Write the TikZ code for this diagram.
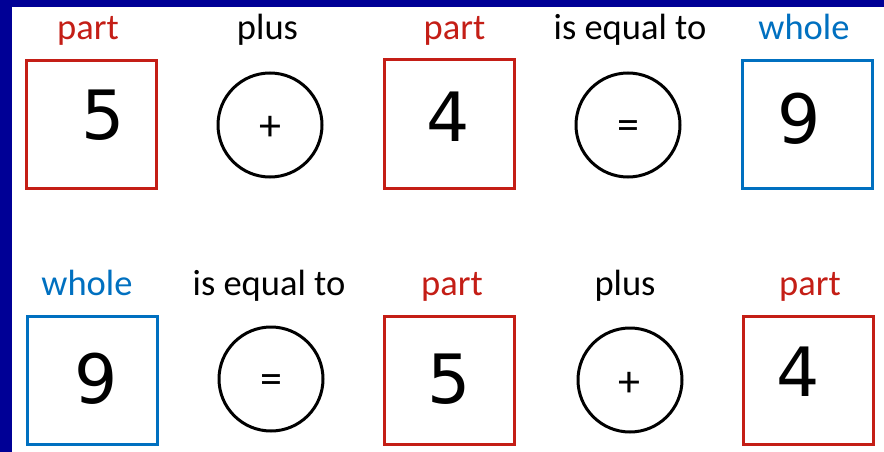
\documentclass[tikz,border=0pt]{standalone}
\usepackage{fontspec}
\setmainfont{Carlito}
\newfontfamily\digitfont{DejaVu Sans}
\definecolor{partred}{RGB}{196,30,22}
\definecolor{wholeblue}{RGB}{0,112,192}
\definecolor{framenavy}{RGB}{0,0,150}
\begin{document}
\begin{tikzpicture}[x=1pt,y=-1pt,
  partbox/.style={draw=partred,line width=3pt,minimum width=130pt,minimum height=128pt,inner sep=0pt},
  wholebox/.style={partbox,draw=wholeblue},
  opcircle/.style={draw,circle,line width=3pt,minimum size=104pt,inner sep=0pt},
  word/.style={anchor=base,inner sep=0pt,font=\fontsize{36.5}{40}\selectfont},
  digit/.style={inner sep=0pt,font=\digitfont\fontsize{68}{70}\selectfont},
  sign/.style={inner sep=0pt,font=\fontsize{44}{48}\selectfont}]
\fill[framenavy] (0,0) rectangle (884,452);
\fill[white] (12,7) rectangle (884,452);

\node[partbox] (box1) at (91.5,124.5) {};
\node[opcircle] (op1) at (270,125) {};
\node[partbox] (box2) at (449,124) {};
\node[opcircle] (op2) at (628,125) {};
\node[wholebox] (box3) at (807,124.5) {};
\node[wholebox] (box4) at (92.5,380.5) {};
\node[opcircle] (op3) at (271,379) {};
\node[partbox] (box5) at (449.5,380.5) {};
\node[opcircle] (op4) at (630,380) {};
\node[partbox] (box6) at (808,380.5) {};

\node[word,text=partred] (lab1) at (88,40) {part};
\node[word] (lab2) at (267.5,40) {plus};
\node[word,text=partred] (lab3) at (454.5,40) {part};
\node[word] (lab4) at (630,40) {is equal to};
\node[word,text=wholeblue] (lab5) at (804,40) {whole};
\node[word,text=wholeblue] (lab6) at (87,295) {whole};
\node[word] (lab7) at (269,295) {is equal to};
\node[word,text=partred] (lab8) at (452,295) {part};
\node[word] (lab9) at (625,295) {plus};
\node[word,text=partred] (lab10) at (810,295) {part};

\node[digit] (num1) at (103,115) {5};
\node[sign] (sign1) at (270,128) {+};
\node[digit] (num2) at (448.5,117) {4};
\node[sign] (sign2) at (628,130) {=};
\node[digit] (num3) at (799.5,118.5) {9};
\node[digit] (num4) at (96,379) {9};
\node[sign] (sign3) at (271.5,384.5) {=};
\node[digit] (num5) at (449,379) {5};
\node[sign] (sign4) at (629,384.5) {+};
\node[digit] (num6) at (798,372) {4};
\end{tikzpicture}
\end{document}
